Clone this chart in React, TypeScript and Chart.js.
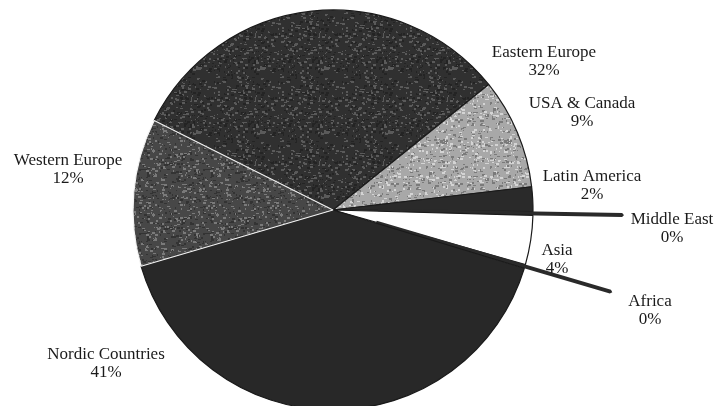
import React, { useEffect, useRef } from "react";
import { Chart, registerables } from "chart.js";

Chart.register(...registerables);

const categories = [
  "Eastern Europe",
  "USA & Canada",
  "Latin America",
  "Middle East",
  "Asia",
  "Africa",
  "Nordic Countries",
  "Western Europe",
];
const shares = [32, 9, 2, 0.3, 4, 0.3, 41, 12];
const percentLabels = ["32%", "9%", "2%", "0%", "4%", "0%", "41%", "12%"];

const sliceBase = ["#303030", "#a8a8a8", "#2a2a2a", "#2e2e2e", "#ffffff", "#2e2e2e", "#282828", "#474747"];
const sliceSpeckle = ["#5a5a5a", "#d4d4d4", "", "", "", "", "", "#7a7a7a"];
const sliceShade = ["#242424", "#7a7a7a", "", "", "", "", "", "#333333"];
const sliceBorders = ["#1a1a1a", "#1a1a1a", "#1a1a1a", "#2a2a2a", "#1a1a1a", "#2a2a2a", "#1a1a1a", "#f4f4f4"];
const sliceBorderWidths = [1.2, 1.2, 1.2, 4, 1.2, 4, 1.2, 1.2];
const sliceOffsets = [0, 0, 0, 180, 0, 180, 0, 0];

// label anchor (center x, baseline y of first line)
const labelAnchors: [number, number][] = [
  [544, 57],
  [582, 108],
  [592, 181],
  [672, 224],
  [557, 255],
  [650, 306],
  [106, 359],
  [68, 165],
];

function makeTexture(base: string, light: string, dark: string, seed: number): CanvasPattern | string {
  if (!light) return base;
  const c = document.createElement("canvas");
  c.width = 64;
  c.height = 64;
  const g = c.getContext("2d");
  if (!g) return base;
  g.fillStyle = base;
  g.fillRect(0, 0, 64, 64);
  let s = seed;
  const next = () => {
    s = (s * 1103515245 + 12345) % 2147483648;
    return s / 2147483648;
  };
  for (let k = 0; k < 380; k++) {
    const x = Math.floor(next() * 64);
    const y = Math.floor(next() * 64);
    const w = 1 + Math.floor(next() * 3);
    const h = 1 + Math.floor(next() * 2);
    g.fillStyle = next() < 0.5 ? light : dark;
    g.fillRect(x, y, w, h);
  }
  return g.createPattern(c, "repeat") || base;
}

const labelPlugin = {
  id: "sliceLabels",
  afterDraw(chart: any) {
    const ctx = chart.ctx;
    ctx.save();
    ctx.fillStyle = "#1a1a1a";
    ctx.font = '17px "Liberation Serif", serif';
    ctx.textAlign = "center";
    ctx.textBaseline = "alphabetic";
    categories.forEach((name, i) => {
      const [x, y] = labelAnchors[i];
      ctx.fillText(name, x, y);
      ctx.fillText(percentLabels[i], x, y + 18);
    });
    ctx.restore();
  },
};

export default function App() {
  const ref = useRef<HTMLCanvasElement | null>(null);
  useEffect(() => {
    document.body.style.margin = "0";
    const fills = sliceBase.map((b, i) => makeTexture(b, sliceSpeckle[i], sliceShade[i], 7919 * (i + 3)));
    const chart = new Chart(ref.current as HTMLCanvasElement, {
      type: "pie",
      data: {
        labels: categories,
        datasets: [
          {
            data: shares,
            backgroundColor: fills as any,
            borderColor: sliceBorders,
            borderWidth: sliceBorderWidths,
            offset: sliceOffsets,
          },
        ],
      },
      options: {
        animation: false,
        responsive: false,
        rotation: -63.4,
        radius: 200,
        layout: { padding: { left: 0, right: 51, top: 0, bottom: 0 } },
        plugins: {
          legend: { display: false },
          tooltip: { enabled: false },
        },
      },
      plugins: [labelPlugin],
    });
    return () => chart.destroy();
  }, []);
  return (
    <div style={{ position: "absolute", left: 0, top: 0, width: 717, height: 420, background: "#fff" }}>
      <canvas ref={ref} width={717} height={420} style={{ display: "block" }} />
    </div>
  );
}
